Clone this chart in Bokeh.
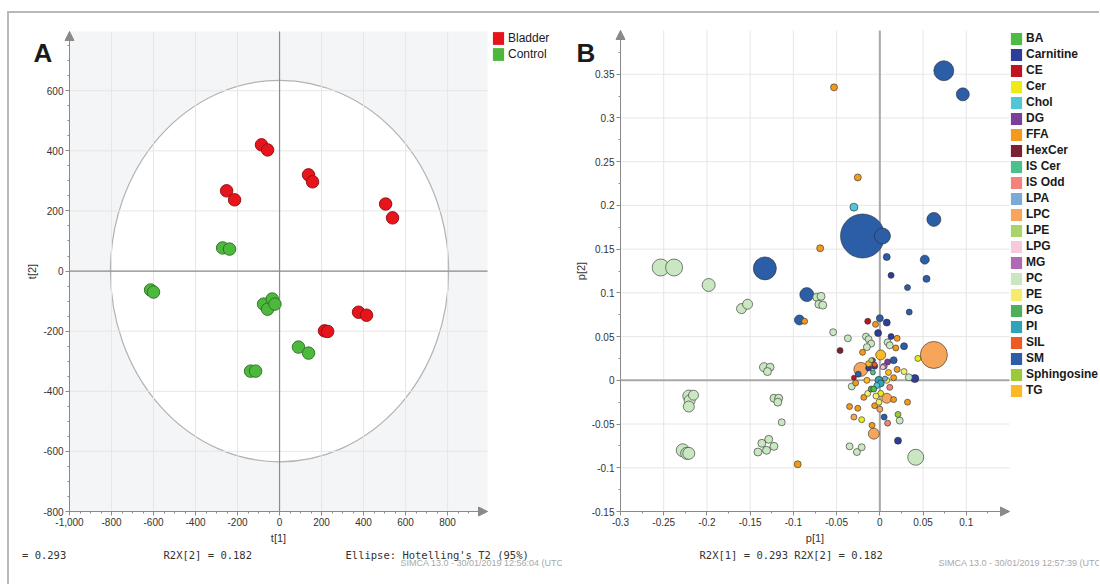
import numpy as np
from bokeh.plotting import figure
from bokeh.layouts import row
from bokeh.models import (ColumnDataSource, Label, Legend, LegendItem, Arrow,
                          NormalHead, FixedTicker, Range1d, NumeralTickFormatter)
from bokeh.embed import file_html
from bokeh.resources import INLINE

# ---------------- Panel A : scores t[1] / t[2] ----------------
group_names = ["Bladder", "Control"]
group_colors = ["#e8141c", "#4cb83c"]
group_edges = ["#8e0b10", "#2c6e22"]
bladder_t1 = [-86, -57, -252, -214, 138, 157, 505, 538, 376, 414, 214, 229]
bladder_t2 = [420, 403, 267, 237, 320, 297, 223, 177, -137, -147, -199, -201]
control_t1 = [-271, -238, -614, -600, -76, -57, -35, -22, -138, -114, 90, 138]
control_t2 = [77, 73, -63, -70, -110, -127, -93, -110, -333, -333, -253, -273]
hotelling_t1 = 805   # semi-axis of the 95% Hotelling T2 ellipse along t[1]
hotelling_t2 = 635   # semi-axis along t[2]
a_xticks = [-1000, -800, -600, -400, -200, 0, 200, 400, 600, 800]
a_yticks = [-800, -600, -400, -200, 0, 200, 400, 600]
r2x_1 = 0.293
r2x_2 = 0.182

# ---------------- Panel B : loadings p[1] / p[2] ----------------
classes = ["BA", "Carnitine", "CE", "Cer", "Chol", "DG", "FFA", "HexCer", "IS Cer",
           "IS Odd", "LPA", "LPC", "LPE", "LPG", "MG", "PC", "PE", "PG", "PI", "SIL",
           "SM", "Sphingosine", "TG"]
class_colors = ["#4dbb44", "#2e3d9a", "#c1121f", "#eeea16", "#52c5d6", "#7b3f99",
                "#f29a1c", "#7a2232", "#4cc08a", "#f2827a", "#7aaad6", "#f8a55c",
                "#a9d46c", "#f7c9dc", "#b06ab3", "#c9e7c1", "#f6ec6c", "#4fae5a",
                "#2ea3b9", "#ee5a24", "#2c5ea8", "#9bc93a", "#fbb827"]

lipid_class = (["SM"] * 18 + ["Carnitine"] * 8 + ["CE"] * 2 + ["Cer"] * 3 + ["Chol"] * 2
               + ["DG"] * 2 + ["FFA"] * 19 + ["TG"] * 4 + ["HexCer"] + ["IS Cer"]
               + ["IS Odd"] * 2 + ["LPA"] + ["LPC"] * 6 + ["LPE"] + ["LPG"] + ["MG"]
               + ["PC"] * 43 + ["PE"] * 5 + ["PG"] + ["PI"] * 2 + ["SIL"]
               + ["Sphingosine"] + ["BA"])
p1 = [0.074, 0.096, -0.020, 0.003, 0.0625, -0.133, -0.0845, -0.093, 0.052, 0.008,
      0.054, 0.032, 0.034, 0.0, 0.028, 0.016, -0.025, 0.005,
      0.013, 0.008, -0.002, 0.013, -0.013, 0.0405, 0.021, -0.006,
      -0.014, -0.030,
      0.044, 0.001, -0.021,
      -0.030, -0.0035,
      0.009, -0.008,
      -0.053, -0.0255, -0.069, -0.087, -0.005, 0.020, 0.0185, 0.020, -0.028, 0.016,
      0.032, -0.035, -0.0255, -0.006, -0.009, -0.095, -0.0185, -0.020, 0.016,
      0.001, -0.015, 0.010, -0.013,
      -0.046,
      -0.008,
      0.0115, 0.009,
      0.006,
      0.0625, -0.022, 0.008, -0.030, 0.0, -0.007,
      -0.010,
      0.0035,
      0.005,
      -0.2535, -0.238, -0.198, -0.160, -0.153, -0.073, -0.068, -0.0705, -0.066, -0.054,
      -0.037, -0.134, -0.127, -0.130, -0.221, -0.2155, -0.220, -0.221, -0.1225, -0.117,
      -0.118, -0.1135, -0.228, -0.2235, -0.221, -0.141, -0.1365, -0.131, -0.1285, -0.1225,
      -0.016, -0.013, -0.010, -0.015, 0.009, 0.0115, 0.0335, -0.0325, 0.023, -0.035,
      -0.0265, -0.021, 0.0415,
      0.028, -0.0045, -0.014, -0.001, 0.008,
      -0.010,
      -0.001, 0.001,
      -0.006,
      0.021,
      -0.007]
p2 = [0.354, 0.327, 0.165, 0.165, 0.184, 0.128, 0.098, 0.069, 0.138, 0.141,
      0.116, 0.106, 0.078, 0.071, 0.039, 0.023, 0.007, -0.042,
      0.120, 0.066, 0.054, 0.050, 0.014, 0.002, -0.069, 0.016,
      0.0675, 0.003,
      0.025, -0.015, -0.045,
      0.198, -0.006,
      0.021, 0.023,
      0.335, 0.232, 0.151, 0.0675, 0.064, 0.048, 0.037, 0.0125, -0.003, -0.022,
      -0.025, -0.030, -0.032, -0.029, -0.0515, -0.096, -0.0195, 0.032, 0.003,
      0.029, 0.0, 0.009, 0.019,
      0.034,
      0.009,
      -0.008, -0.049,
      0.002,
      0.029, 0.0125, -0.0205, -0.042, -0.033, -0.061,
      0.023,
      0.015,
      0.016,
      0.129, 0.129, 0.109, 0.082, 0.087, 0.095, 0.096, 0.087, 0.086, 0.055,
      0.048, 0.015, 0.015, 0.010, -0.018, -0.017, -0.023, -0.030, -0.0205, -0.0205,
      -0.025, -0.048, -0.080, -0.0835, -0.0835, -0.082, -0.072, -0.080, -0.0675, -0.0755,
      0.050, 0.047, 0.042, 0.038, 0.0435, 0.040, 0.0035, -0.007, -0.046, -0.0755,
      -0.082, -0.0765, -0.088,
      0.010, -0.018, -0.015, -0.025, 0.0,
      -0.010,
      0.0, -0.0035,
      0.018,
      -0.039,
      -0.010]
vip = [2.0, 1.3, 4.4, 1.6, 1.4, 2.3, 1.4, 1.0, 0.9, 0.7,
       0.7, 0.6, 0.6, 0.7, 0.7, 0.7, 0.6, 0.6,
       0.6, 0.7, 0.7, 0.6, 0.6, 0.8, 0.7, 0.6,
       0.6, 0.5,
       0.6, 0.6, 0.6,
       0.8, 0.6,
       0.6, 0.5,
       0.7, 0.7, 0.7, 0.6, 0.6, 0.6, 0.6, 0.6, 0.6, 0.6,
       0.6, 0.6, 0.6, 0.6, 0.6, 0.7, 0.6, 0.6, 0.6,
       1.0, 0.6, 0.6, 0.6,
       0.6,
       0.5,
       0.6, 0.6,
       0.5,
       2.7, 1.4, 1.0, 0.6, 0.6, 1.1,
       0.5,
       0.5,
       0.6,
       1.7, 1.7, 1.3, 1.0, 1.0, 0.8, 0.8, 0.8, 0.8, 0.7,
       0.7, 0.9, 0.8, 0.8, 1.2, 1.0, 1.1, 1.1, 0.8, 0.8,
       0.8, 0.7, 1.3, 1.2, 1.2, 0.8, 0.8, 0.8, 0.8, 0.8,
       0.7, 0.7, 0.7, 0.7, 0.7, 0.7, 0.7, 0.7, 0.7, 0.7,
       0.7, 0.7, 1.6,
       0.6, 0.6, 0.6, 0.6, 0.6,
       0.6,
       0.8, 0.7,
       0.5,
       0.6,
       0.6]
b_xticks = [-0.3, -0.25, -0.2, -0.15, -0.1, -0.05, 0, 0.05, 0.1]
b_yticks = [-0.15, -0.1, -0.05, 0, 0.05, 0.1, 0.15, 0.2, 0.25, 0.3, 0.35]

FONT = "Liberation Sans"
MONO = "DejaVu Sans Mono"
AXC = "#8a8a8a"
GRID = "#e6e6e6"
H = 571


def padded_range(lo, hi, px_before, px_axis, px_after):
    """Extend an axis extent so that the axis box sits at the wanted pixel offsets
    inside a canvas-filling frame."""
    per_px = (hi - lo) / px_axis
    return Range1d(lo - px_before * per_px, hi + px_after * per_px)


def make_panel(width, xlo, xhi, ylo, yhi, box, xlabel, ylabel, xticks, yticks,
               xminor, yminor, fmt):
    left, right, top, bottom = box          # pixel margins of the axis box in the canvas
    p = figure(width=width, height=H,
               x_range=padded_range(xlo, xhi, left, width - left - right, right),
               y_range=padded_range(ylo, yhi, bottom, H - top - bottom, top),
               output_backend="svg", toolbar_location=None, min_border=0,
               x_axis_label=xlabel, y_axis_label=ylabel)
    p.outline_line_color = None
    p.background_fill_color = "white"
    p.border_fill_color = "white"
    p.grid.visible = False
    xa, ya = p.xaxis[0], p.yaxis[0]
    xa.fixed_location = ylo
    ya.fixed_location = xlo
    xa.bounds = (xlo, xhi)
    ya.bounds = (ylo, yhi)
    xa.ticker = FixedTicker(ticks=xticks, minor_ticks=xminor)
    ya.ticker = FixedTicker(ticks=yticks, minor_ticks=yminor)
    for ax in (xa, ya):
        ax.axis_line_color = AXC
        ax.major_tick_line_color = AXC
        ax.minor_tick_line_color = AXC
        ax.major_tick_out = 4
        ax.major_tick_in = 0
        ax.minor_tick_out = 2
        ax.minor_tick_in = 0
        ax.major_label_text_font = FONT
        ax.major_label_text_font_size = "10px"
        ax.major_label_text_color = "#333333"
        ax.axis_label_text_font = FONT
        ax.axis_label_text_font_size = "11px"
        ax.axis_label_text_font_style = "normal"
        ax.axis_label_text_color = "#333333"
        ax.major_label_standoff = 2
        ax.formatter = NumeralTickFormatter(format=fmt)
    xa.axis_label_standoff = 3
    ya.axis_label_standoff = 2
    # grid lines limited to the axis box
    p.segment(x0=xticks, x1=xticks, y0=[ylo] * len(xticks), y1=[yhi] * len(xticks),
              line_color=GRID, line_width=1, level="underlay")
    p.segment(x0=[xlo] * len(yticks), x1=[xhi] * len(yticks), y0=yticks, y1=yticks,
              line_color=GRID, line_width=1, level="underlay")
    # arrow heads at the end of both axes
    for xs, ys, xe, ye in [(xlo, ylo, xlo, yhi), (xlo, ylo, xhi, ylo)]:
        p.add_layout(Arrow(end=NormalHead(size=9, fill_color=AXC, line_color=AXC),
                           x_start=xs, y_start=ys, x_end=xe, y_end=ye,
                           line_color=AXC, line_width=1))
    return p


def label(p, x, y, text, font=FONT, size="11px", color="#333333", style="normal",
          baseline="middle"):
    p.add_layout(Label(x=x, y=y, x_units="screen", y_units="screen", text=text,
                       text_font=font, text_font_size=size, text_color=color,
                       text_font_style=style, text_align="left", text_baseline=baseline))


def legend_swatches(p, names, colors):
    items = []
    for name, c in zip(names, colors):
        r = p.rect(x=[np.nan], y=[np.nan], width=1, height=1, fill_color=c, line_color=None)
        items.append(LegendItem(label=name, renderers=[r]))
    return items


# ================= Panel A =================
WA = 553
ax0, ax1, ay0, ay1 = -1000, 990, -800, 797
pa = make_panel(WA, ax0, ax1, ay0, ay1, (60, WA - 478, 18, 73), "t[1]", "t[2]",
                a_xticks, a_yticks, list(np.arange(-1000, 1000, 50)),
                list(np.arange(-800, 800, 50)), "0,0")
pa.quad(left=[ax0], right=[ax1], bottom=[ay0], top=[ay1], fill_color="#f4f5f6",
        line_color=None, level="image")
pa.ellipse(x=[0], y=[0], width=[2 * hotelling_t1], height=[2 * hotelling_t2],
           fill_color="white", line_color="#b3b3b3", line_width=1.2, level="image")
pa.segment(x0=[0, ax0], x1=[0, ax1], y0=[ay0, 0], y1=[ay1, 0], line_color="#8c8c8c",
           line_width=1.2, level="underlay")
for t1, t2, c, e in [(bladder_t1, bladder_t2, group_colors[0], group_edges[0]),
                     (control_t1, control_t2, group_colors[1], group_edges[1])]:
    pa.scatter(x=t1, y=t2, size=12.5, fill_color=c, line_color=e, line_width=0.9)

pa.add_layout(Legend(items=legend_swatches(pa, group_names, group_colors),
                     location=(482, 522), orientation="vertical",
                     glyph_width=14, glyph_height=16, label_height=16, spacing=0,
                     padding=0, margin=0, label_standoff=3, border_line_color=None,
                     background_fill_alpha=0, label_text_font=FONT,
                     label_text_font_size="12px", label_text_color="#1a1a1a"))

label(pa, 24, 532, "A", size="26px", color="#1a1a1a", style="bold", baseline="alphabetic")
label(pa, 12.5, 30, "= %.3f" % r2x_1, font=MONO, size="10.5px")
label(pa, 154, 30, "R2X[2] = %.3f" % r2x_2, font=MONO, size="10.5px")
label(pa, 336, 30, "Ellipse: Hotelling's T2 (95%)", font=MONO, size="10.5px")
label(pa, 391, 22, "SIMCA 13.0 - 30/01/2019 12:56:04 (UTC+0)", size="9px", color="#a8a8a8")

# ================= Panel B =================
WB = 537
bx0, bx1, by0, by1 = -0.3, 0.15, -0.15, 0.40
pb = make_panel(WB, bx0, bx1, by0, by1, (58, WB - 447, 17, 73), "p[1]", "p[2]",
                b_xticks, b_yticks, [round(v, 3) for v in np.arange(-0.3, 0.15, 0.025)],
                [round(v, 3) for v in np.arange(-0.15, 0.40, 0.025)], "0.[00]")
pb.segment(x0=[0, bx0], x1=[0, bx1], y0=[by0, 0], y1=[by1, 0], line_color="#a8a8a8",
           line_width=2, level="underlay")

cmap = dict(zip(classes, class_colors))
order = sorted(range(len(p1)), key=lambda i: -vip[i])
src = ColumnDataSource(dict(
    x=[p1[i] for i in order], y=[p2[i] for i in order],
    size=[vip[i] * 10 for i in order],
    color=[cmap[lipid_class[i]] for i in order]))
pb.scatter(x="x", y="y", size="size", fill_color="color", source=src,
           line_color="#2a2a2a", line_alpha=0.75, line_width=0.8)

pb.add_layout(Legend(items=legend_swatches(pb, classes, class_colors),
                     location=(447, 186), orientation="vertical",
                     glyph_width=14, glyph_height=15, label_height=16, spacing=0,
                     padding=0, margin=0, label_standoff=3, border_line_color=None,
                     background_fill_alpha=0, label_text_font=FONT,
                     label_text_font_size="12px", label_text_font_style="bold",
                     label_text_color="#1a1a1a"))

label(pb, 14, 532, "B", size="26px", color="#1a1a1a", style="bold", baseline="alphabetic")
label(pb, 137, 30, "R2X[1] = %.3f R2X[2] = %.3f" % (r2x_1, r2x_2), font=MONO, size="10.5px")
label(pb, 376, 22, "SIMCA 13.0 - 30/01/2019 12:57:39 (UTC+0)", size="9px", color="#a8a8a8")

layout = row(pa, pb, styles={"margin-left": "7px", "margin-top": "11px",
                             "border-top": "2px solid #b9b9b9",
                             "border-left": "2px solid #b9b9b9"})
open("out.html", "w").write(file_html(layout, INLINE))
